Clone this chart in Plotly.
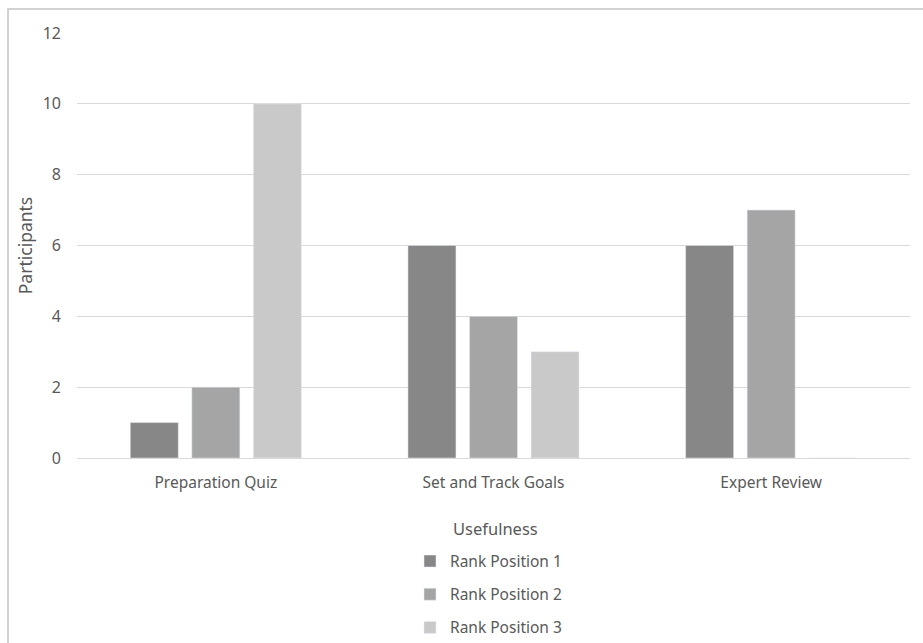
import plotly.graph_objects as go

categories = ["Preparation Quiz", "Set and Track Goals", "Expert Review"]
series_names = ["Rank Position 1", "Rank Position 2", "Rank Position 3"]
legend_title = "Usefulness"
rank1 = [1, 6, 6]
rank2 = [2, 4, 7]
rank3 = [10, 3, 0]
colors = ["#878787", "#a5a5a5", "#c9c9c9"]

W, H = 923, 643
L, R, T, B = 77, 13, 33, 185
pw, ph = W - L - R, H - T - B

fig = go.Figure()
for i, (name, vals) in enumerate(zip(series_names, [rank1, rank2, rank3])):
    fig.add_trace(go.Bar(x=categories, y=vals, name=name, marker_color=colors[i],
                         legendgroup=name))

def px_x(p):
    return (p - L) / pw

def px_y(p):
    return (H - B - p) / ph

fig.add_shape(type="rect", xref="paper", yref="paper",
              x0=px_x(8), x1=px_x(940), y0=px_y(9), y1=px_y(700),
              line=dict(color="#c4c4c4", width=1.5), fillcolor="rgba(0,0,0,0)", layer="below")

fig.add_annotation(text=legend_title, xref="paper", yref="paper",
                   x=px_x(495), y=px_y(528), xanchor="center", yanchor="middle",
                   showarrow=False, font=dict(size=16.5, color="#595959"))

fig.update_layout(
    width=W, height=H,
    margin=dict(l=L, r=R, t=T, b=B, autoexpand=False),
    paper_bgcolor="white", plot_bgcolor="white",
    font=dict(family="Noto Sans, Open Sans, sans-serif", size=15, color="#595959"),
    barmode="group", bargap=0.335, bargroupgap=0.22,
    showlegend=True,
    legend=dict(orientation="v", x=px_x(410), xanchor="left", y=px_y(544.5), yanchor="top",
                font=dict(size=15.5), tracegroupgap=10, itemclick=False, itemwidth=30),
    xaxis=dict(showgrid=False, showline=False, ticks="", ticklabelstandoff=13,
               tickfont=dict(size=15.5)),
    yaxis=dict(range=[0, 12], dtick=2, showgrid=True, gridcolor="#d9d9d9", gridwidth=1,
               zeroline=True, zerolinecolor="#d9d9d9", zerolinewidth=1,
               showline=False, ticks="", ticklabelstandoff=15,
               title=dict(text="Participants", standoff=5, font=dict(size=17.5)),
               tickfont=dict(size=16)),
)

fig.write_html("out.html")
